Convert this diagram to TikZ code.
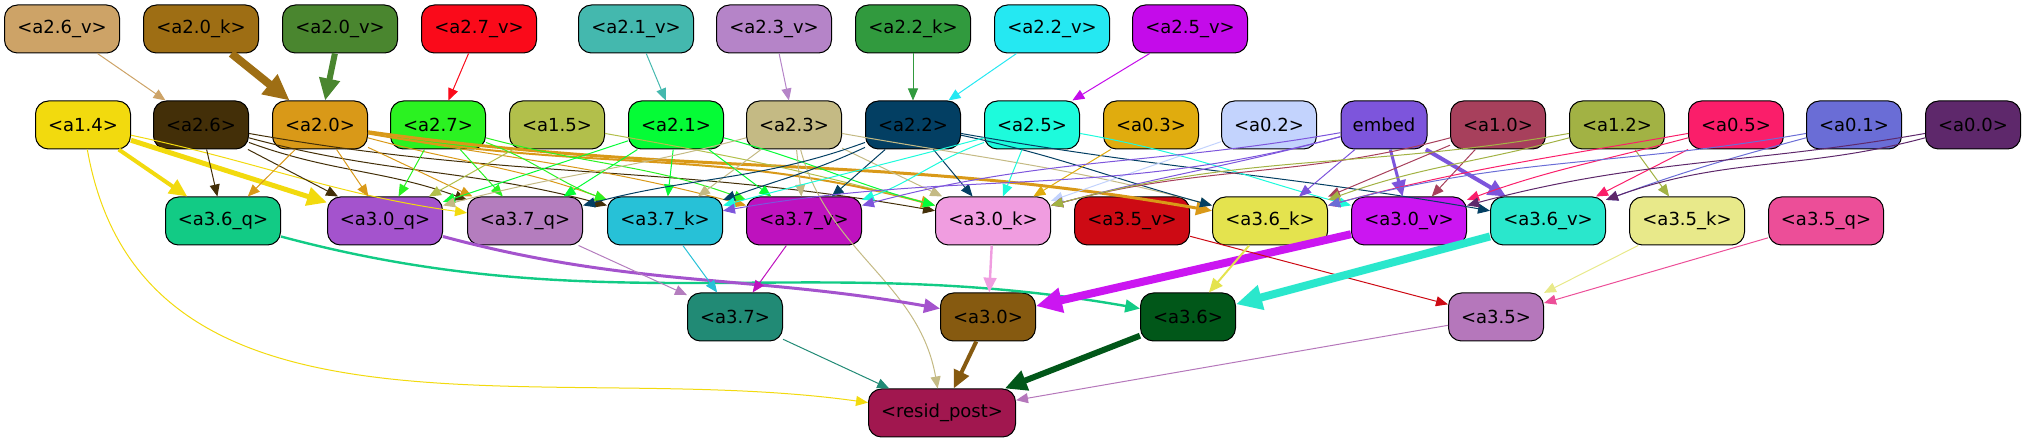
\documentclass[tikz,border=0pt]{standalone}
\usepackage{fontspec}
\setmainfont{DejaVu Sans}
\usetikzlibrary{arrows.meta}
% node colours
\definecolor{c26v}{HTML}{CDA367}
\definecolor{c20k}{HTML}{9E6E14}
\definecolor{c20v}{HTML}{4A862F}
\definecolor{c27v}{HTML}{FA0A1A}
\definecolor{c21v}{HTML}{44B8AE}
\definecolor{c23v}{HTML}{B584C8}
\definecolor{c22k}{HTML}{319A3E}
\definecolor{c22v}{HTML}{25E8F2}
\definecolor{c25v}{HTML}{C40BEA}
\definecolor{c14}{HTML}{F2DA0E}
\definecolor{c26}{HTML}{432F08}
\definecolor{c20}{HTML}{D99918}
\definecolor{c27}{HTML}{2BF221}
\definecolor{c15}{HTML}{B2BF4B}
\definecolor{c21}{HTML}{05FC36}
\definecolor{c23}{HTML}{C4BA84}
\definecolor{c22}{HTML}{033F63}
\definecolor{c25}{HTML}{1DFBDC}
\definecolor{c03}{HTML}{E0AC0E}
\definecolor{c02}{HTML}{C3D3FD}
\definecolor{cemb}{HTML}{7D55DC}
\definecolor{c10}{HTML}{A7405C}
\definecolor{c12}{HTML}{A2B244}
\definecolor{c05}{HTML}{FA1E6A}
\definecolor{c01}{HTML}{6A6DD6}
\definecolor{c00}{HTML}{5E286B}
\definecolor{c36q}{HTML}{12CB85}
\definecolor{c30q}{HTML}{A453CD}
\definecolor{c37q}{HTML}{B47DBE}
\definecolor{c37k}{HTML}{27C1D7}
\definecolor{c37v}{HTML}{BE12BE}
\definecolor{c30k}{HTML}{F09DE0}
\definecolor{c35v}{HTML}{CD0A14}
\definecolor{c36k}{HTML}{E4E34E}
\definecolor{c30v}{HTML}{CB16F1}
\definecolor{c36v}{HTML}{2AE7CC}
\definecolor{c35k}{HTML}{E8E98A}
\definecolor{c35q}{HTML}{EC4E98}
\definecolor{c37}{HTML}{218A75}
\definecolor{c30}{HTML}{865A10}
\definecolor{c36}{HTML}{015719}
\definecolor{c35}{HTML}{B577BB}
\definecolor{cres}{HTML}{A1174F}
\tikzset{
    blk/.style={draw=black, line width=0.5pt, rounded corners=6.5pt, minimum height=24pt,
        inner sep=0pt, font=\fontsize{9}{11}\selectfont},
    wbox/.style={blk, minimum width=57.5pt},
    nbox/.style={blk, minimum width=47.5pt},
}

\begin{document}
\begin{tikzpicture}[x=0.5pt, y=0.5pt, line width=0.5pt, >={Triangle[length=5pt 2,width=4pt 2]}]
	\useasboundingbox (0,0) rectangle (2026,-443);
	% top row
	\node[wbox, fill=c26v] (v26) at (62,-29) {<a2.6\_v>};
	\node[wbox, fill=c20k] (k20) at (201,-29) {<a2.0\_k>};
	\node[wbox, fill=c20v] (v20) at (340,-29) {<a2.0\_v>};
	\node[wbox, fill=c27v] (v27) at (479,-29) {<a2.7\_v>};
	\node[wbox, fill=c21v] (v21) at (636,-29) {<a2.1\_v>};
	\node[wbox, fill=c23v] (v23) at (774,-29) {<a2.3\_v>};
	\node[wbox, fill=c22k] (k22) at (913,-29) {<a2.2\_k>};
	\node[wbox, fill=c22v] (v22) at (1052,-29) {<a2.2\_v>};
	\node[wbox, fill=c25v] (v25) at (1190,-29) {<a2.5\_v>};
	%
	\node[nbox, fill=c14] (n14) at (83,-125) {<a1.4>};
	\node[nbox, fill=c26] (n26) at (201,-125) {<a2.6>};
	\node[nbox, fill=c20] (n20) at (320,-125) {<a2.0>};
	\node[nbox, fill=c27] (n27) at (438,-125) {<a2.7>};
	\node[nbox, fill=c15] (n15) at (557,-125) {<a1.5>};
	\node[nbox, fill=c21] (n21) at (676,-125) {<a2.1>};
	\node[nbox, fill=c23] (n23) at (794,-125) {<a2.3>};
	\node[nbox, fill=c22] (n22) at (913,-125) {<a2.2>};
	\node[nbox, fill=c25] (n25) at (1032,-125) {<a2.5>};
	\node[nbox, fill=c03] (n03) at (1151,-125) {<a0.3>};
	\node[nbox, fill=c02] (n02) at (1269,-125) {<a0.2>};
	\node[blk, minimum width=43pt, fill=cemb] (emb) at (1384,-125) {embed};
	\node[nbox, fill=c10] (n10) at (1498,-125) {<a1.0>};
	\node[nbox, fill=c12] (n12) at (1617,-125) {<a1.2>};
	\node[nbox, fill=c05] (n05) at (1736,-125) {<a0.5>};
	\node[nbox, fill=c01] (n01) at (1854,-125) {<a0.1>};
	\node[nbox, fill=c00] (n00) at (1973,-125) {<a0.0>};
	%
	\node[wbox, fill=c36q] (q36) at (223,-221) {<a3.6\_q>};
	\node[wbox, fill=c30q] (q30) at (385,-221) {<a3.0\_q>};
	\node[wbox, fill=c37q] (q37) at (525,-221) {<a3.7\_q>};
	\node[wbox, fill=c37k] (k37) at (665,-221) {<a3.7\_k>};
	\node[wbox, fill=c37v] (v37) at (804,-221) {<a3.7\_v>};
	\node[wbox, fill=c30k] (k30) at (993,-221) {<a3.0\_k>};
	\node[wbox, fill=c35v] (v35) at (1132,-221) {<a3.5\_v>};
	\node[wbox, fill=c36k] (k36) at (1270,-221) {<a3.6\_k>};
	\node[wbox, fill=c30v] (v30) at (1409,-221) {<a3.0\_v>};
	\node[wbox, fill=c36v] (v36) at (1548,-221) {<a3.6\_v>};
	\node[wbox, fill=c35k] (k35) at (1687,-221) {<a3.5\_k>};
	\node[wbox, fill=c35q] (q35) at (1826,-221) {<a3.5\_q>};
	%
	\node[nbox, fill=c37] (a37) at (735,-317) {<a3.7>};
	\node[nbox, fill=c30] (a30) at (988,-317) {<a3.0>};
	\node[nbox, fill=c36] (a36) at (1188,-317) {<a3.6>};
	\node[nbox, fill=c35] (a35) at (1496,-317) {<a3.5>};
	\node[blk, minimum width=73.5pt, fill=cres] (res) at (942,-413) {<resid\_post>};
	%
	% top row to second row
	\draw[->, c26v] (v26) -- (n26);
	\draw[->, c20k, line width=4pt] (k20) -- (n20);
	\draw[->, c20v, line width=3pt] (v20) -- (n20);
	\draw[->, c27v] (v27) -- (n27);
	\draw[->, c21v] (v21) -- (n21);
	\draw[->, c23v] (v23) -- (n23);
	\draw[->, c22k] (k22) -- (n22);
	\draw[->, c22v] (v22) -- (n22);
	\draw[->, c25v] (v25) -- (n25);
	%
	% second row to third row
	\draw[->, c14, line width=2pt] (n14) -- (q36);
	\draw[->, c14, line width=2.5pt] (n14) -- (q30);
	\draw[->, c14] (n14) to[out=-12, in=172] (q37);
	\draw[->, c14] (n14) to[out=-80, in=172] (res);
	\draw[->, c26] (n26) -- (q36);
	\draw[->, c26] (n26) -- (q30);
	\draw[->, c26] (n26) to[out=-20, in=160] (q37);
	\draw[->, c26] (n26) to[out=-15, in=165] (k37);
	\draw[->, c26] (n26) to[out=-10, in=170] (k30);
	\draw[->, c20] (n20) -- (q36);
	\draw[->, c20] (n20) -- (q30);
	\draw[->, c20] (n20) to[out=-25, in=155] (q37);
	\draw[->, c20] (n20) to[out=-15, in=160] (k37);
	\draw[->, c20] (n20) to[out=-10, in=165] (v37);
	\draw[->, c20, line width=1pt] (n20) to[out=-10, in=165] (k30);
	\draw[->, c20, line width=1.5pt] (n20) to[out=-8, in=170] (k36);
	\draw[->, c27] (n27) -- (q30);
	\draw[->, c27] (n27) -- (q37);
	\draw[->, c27] (n27) to[out=-20, in=160] (k37);
	\draw[->, c27] (n27) to[out=-15, in=160] (v37);
	\draw[->, c15] (n15) -- (q30);
	\draw[->, c15] (n15) to[out=-10, in=165] (k30);
	\draw[->, c21] (n21) -- (q30);
	\draw[->, c21] (n21) -- (q37);
	\draw[->, c21] (n21) -- (k37);
	\draw[->, c21] (n21) -- (v37);
	\draw[->, c21] (n21) to[out=-15, in=165] (k30);
	\draw[->, c23] (n23) to[out=-165, in=15] (q30);
	\draw[->, c23] (n23) -- (k37);
	\draw[->, c23] (n23) -- (v37);
	\draw[->, c23] (n23) -- (k30);
	\draw[->, c23] (n23) to[out=-10, in=165] (k36);
	\draw[->, c23] (n23) to[out=-75, in=100] (res);
	\draw[->, c22] (n22) to[out=-160, in=15] (q37);
	\draw[->, c22] (n22) to[out=-155, in=20] (k37);
	\draw[->, c22] (n22) -- (v37);
	\draw[->, c22] (n22) -- (k30);
	\draw[->, c22] (n22) to[out=-12, in=165] (k36);
	\draw[->, c22] (n22) to[out=-10, in=170] (v36);
	\draw[->, c25] (n25) to[out=-165, in=15] (k37);
	\draw[->, c25] (n25) to[out=-160, in=20] (v37);
	\draw[->, c25] (n25) -- (k30);
	\draw[->, c25] (n25) to[out=-10, in=165] (v30);
	\draw[->, c03] (n03) -- (k30);
	\draw[->, c02] (n02) -- (k30);
	\draw[->, cemb] (emb) to[out=-165, in=10] (k37);
	\draw[->, cemb] (emb) to[out=-170, in=15] (v37);
	\draw[->, cemb] (emb) to[out=-165, in=15] (k30);
	\draw[->, cemb] (emb) -- (k36);
	\draw[->, cemb, line width=1.5pt] (emb) -- (v30);
	\draw[->, cemb, line width=2pt] (emb) -- (v36);
	\draw[->, c10] (n10) to[out=-165, in=15] (k30);
	\draw[->, c10] (n10) -- (k36);
	\draw[->, c10] (n10) -- (v30);
	\draw[->, c12] (n12) to[out=-170, in=15] (k30);
	\draw[->, c12] (n12) to[out=-165, in=20] (k36);
	\draw[->, c12] (n12) -- (k35);
	\draw[->, c05] (n05) to[out=-170, in=15] (k36);
	\draw[->, c05] (n05) to[out=-165, in=20] (v30);
	\draw[->, c05] (n05) -- (v36);
	\draw[->, c01] (n01) to[out=-170, in=15] (k36);
	\draw[->, c01] (n01) to[out=-165, in=20] (v36);
	\draw[->, c00] (n00) to[out=-170, in=15] (v30);
	\draw[->, c00] (n00) to[out=-165, in=20] (v36);
	%
	% third row to fourth row
	\draw[->, c36q, line width=1.2pt] (q36) to[out=-15, in=170] (a36);
	\draw[->, c30q, line width=1.5pt] (q30) to[out=-15, in=170] (a30);
	\draw[->, c37q] (q37) -- (a37);
	\draw[->, c37k] (k37) -- (a37);
	\draw[->, c37v] (v37) -- (a37);
	\draw[->, c30k, line width=1.2pt] (k30) -- (a30);
	\draw[->, c30v, line width=4pt] (v30) -- (a30);
	\draw[->, c35v] (v35) -- (a35);
	\draw[->, c36k, line width=1pt] (k36) -- (a36);
	\draw[->, c36v, line width=4pt] (v36) -- (a36);
	\draw[->, c35k] (k35) -- (a35);
	\draw[->, c35q] (q35) -- (a35);
	%
	\draw[->, c37] (a37) -- (res);
	\draw[->, c30, line width=2pt] (a30) -- (res);
	\draw[->, c36, line width=3pt] (a36) -- (res);
	\draw[->, c35] (a35) -- (res);
\end{tikzpicture}
\end{document}
